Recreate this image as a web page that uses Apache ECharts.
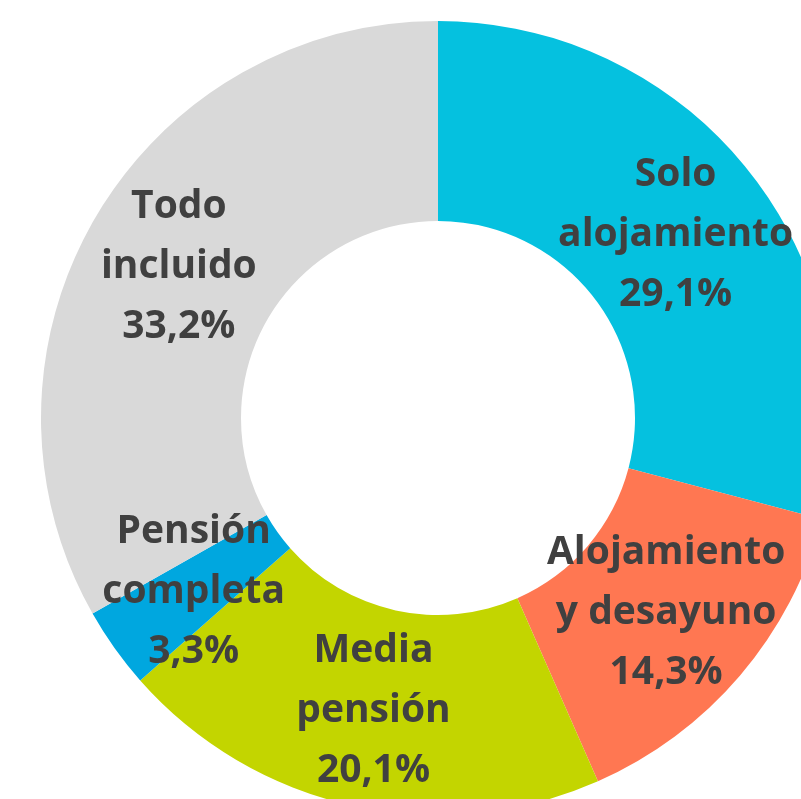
<!DOCTYPE html>
<html>
    <head>
        <meta charset="utf-8">
        <script src="https://cdn.jsdelivr.net/npm/echarts@6/dist/echarts.min.js"></script>
        <style>
            html, body { margin: 0; padding: 0; background: #fff; }
            #main { width: 801px; height: 799px; }
        </style>
    </head>
    <body>
        <div id="main"></div>
        <script>
            var labels = ['Solo\nalojamiento', 'Alojamiento\ny desayuno', 'Media\npensión', 'Pensión\ncompleta', 'Todo\nincluido'];
            var values = [29.1, 14.3, 20.1, 3.3, 33.2];
            var colors = ['#05C1DF', '#FF7752', '#C3D500', '#00A7DF', '#D9D9D9'];

            var chart = echarts.init(document.getElementById('main'));

            var data = labels.map(function (name, i) {
                return {name: name, value: values[i]};
            });

            chart.setOption({
                color: colors,
                animation: false,
                series: [{
                    type: 'pie',
                    center: [438, 418],
                    radius: [197, 397],
                    startAngle: 90,
                    clockwise: true,
                    avoidLabelOverlap: false,
                    itemStyle: {borderWidth: 0},
                    label: {
                        show: true,
                        position: 'inside',
                        color: '#404040',
                        fontFamily: 'Open Sans',
                        fontWeight: 'bold',
                        fontSize: 39,
                        lineHeight: 60,
                        padding: [10, 0, 0, 0],
                        overflow: 'none',
                        formatter: function (p) {
                            return p.name + '\n' + p.value.toFixed(1).replace('.', ',') + '%';
                        }
                    },
                    labelLine: {show: false},
                    data: data
                }]
            });
        </script>
    </body>
</html>
